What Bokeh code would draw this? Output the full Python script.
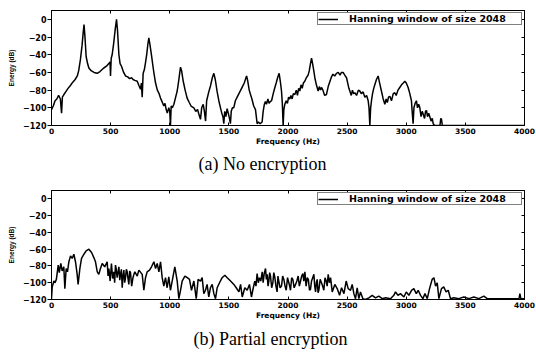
from bokeh.plotting import figure
from bokeh.models import LinearAxis, FixedTicker, Title, Legend, LegendItem, Range1d
from bokeh.layouts import column
from bokeh.embed import file_html
from bokeh.resources import INLINE

# ---------------- data ----------------
freq_a = [0, 15, 30, 45, 60, 75, 85, 92, 105, 120, 140, 158, 180, 200, 218, 230, 245, 258, 268, 275,
          282, 293, 305, 316, 335, 360, 386, 410, 442, 465, 485, 495, 499, 505, 513, 525, 540, 550, 558, 570,
          580, 592, 610, 626, 645, 660, 677, 690, 705, 725, 740, 753, 760, 767, 775, 785, 795, 805, 815, 823,
          832, 846, 860, 870, 880, 895, 910, 922, 935, 950, 960, 970, 979, 992, 1000, 1006, 1012, 1022, 1035, 1050,
          1063, 1075, 1085, 1091, 1100, 1114, 1130, 1147, 1165, 1180, 1204, 1220, 1235, 1246, 1260, 1270, 1283, 1293, 1303, 1312,
          1330, 1345, 1360, 1373, 1385, 1401, 1415, 1429, 1440, 1450, 1457, 1465, 1475, 1485, 1495, 1505, 1513, 1520, 1530, 1541,
          1555, 1570, 1585, 1600, 1615, 1630, 1642, 1650, 1660, 1672, 1683, 1695, 1710, 1725, 1732, 1739, 1750, 1765, 1781, 1790,
          1800, 1809, 1818, 1830, 1840, 1850, 1861, 1875, 1889, 1900, 1912, 1925, 1935, 1945, 1952, 1959, 1965, 1973, 1985, 1995,
          2005, 2015, 2025, 2035, 2045, 2058, 2070, 2080, 2090, 2100, 2110, 2120, 2130, 2142, 2155, 2170, 2180, 2190, 2199, 2208,
          2218, 2227, 2240, 2255, 2265, 2275, 2283, 2295, 2310, 2325, 2340, 2355, 2368, 2380, 2395, 2410, 2425, 2440, 2452, 2466,
          2480, 2495, 2505, 2515, 2523, 2535, 2545, 2555, 2565, 2580, 2595, 2607, 2620, 2635, 2650, 2665, 2678, 2685, 2692, 2699,
          2706, 2715, 2725, 2734, 2748, 2762, 2775, 2790, 2805, 2819, 2830, 2840, 2850, 2861, 2875, 2890, 2903, 2915, 2930, 2945,
          2960, 2975, 2988, 3000, 3016, 3030, 3044, 3050, 3058, 3065, 3075, 3086, 3095, 3105, 3115, 3125, 3135, 3143, 3155, 3163,
          3171, 3180, 3190, 3199, 3210, 3220, 3228, 3240, 3256, 3270, 3285, 3292, 3298, 3305, 4000]
energy_a = [-102, -98, -92, -90, -86, -90, -106, -88, -85, -82, -78, -75, -71, -68, -64, -58, -45, -30, -15, -6,
            -18, -42, -50, -55, -58, -60, -61, -59, -55, -53, -50, -48, -64, -44, -40, -28, -10, 0, -12, -40,
            -50, -53, -60, -64, -65, -67, -66, -68, -69, -70, -75, -79, -72, -88, -61, -57, -49, -40, -28, -21,
            -28, -41, -55, -64, -72, -80, -84, -89, -93, -98, -95, -102, -106, -100, -104, -120, -98, -100, -96, -88,
            -81, -70, -60, -54, -58, -70, -80, -89, -94, -98, -100, -104, -102, -107, -113, -100, -96, -104, -115, -92,
            -82, -75, -66, -61, -68, -82, -92, -100, -106, -110, -118, -104, -110, -101, -106, -112, -118, -104, -100, -100,
            -92, -88, -84, -80, -76, -72, -67, -64, -70, -80, -85, -90, -98, -102, -110, -118, -116, -118, -116, -104,
            -96, -93, -96, -90, -95, -93, -92, -84, -77, -72, -66, -61, -70, -81, -95, -120, -102, -96, -92, -95,
            -88, -90, -86, -90, -84, -85, -80, -86, -78, -81, -74, -78, -72, -70, -66, -63, -58, -50, -44, -50,
            -58, -66, -74, -81, -76, -80, -77, -80, -86, -85, -76, -70, -65, -62, -64, -61, -60, -63, -60, -60,
            -63, -66, -72, -78, -81, -86, -80, -84, -83, -86, -80, -81, -84, -82, -88, -86, -92, -100, -120, -100,
            -92, -84, -78, -74, -68, -64, -72, -81, -90, -96, -90, -94, -88, -87, -92, -84, -83, -86, -80, -77,
            -74, -72, -70, -72, -77, -84, -92, -104, -118, -100, -95, -92, -100, -96, -100, -110, -104, -107, -112, -104,
            -103, -110, -106, -110, -115, -112, -118, -120, -120, -120, -120, -112, -113, -120, -120]

freq_b = [0, 6, 20, 30, 41, 57, 66, 79, 90, 104, 113, 124, 135, 147, 161, 175, 189, 203, 217, 225,
          240, 254, 274, 293, 316, 339, 358, 372, 387, 400, 414, 429, 450, 471, 485, 507, 527, 541, 555, 570,
          584, 598, 612, 626, 640, 654, 668, 689, 705, 725, 739, 767, 781, 795, 809, 829, 846, 866, 880, 894,
          908, 922, 936, 950, 964, 978, 992, 1006, 1026, 1043, 1063, 1077, 1091, 1105, 1128, 1148, 1167, 1184, 1204, 1224,
          1240, 1260, 1274, 1288, 1302, 1316, 1330, 1344, 1359, 1373, 1387, 1401, 1421, 1443, 1466, 1486, 1514, 1542, 1562, 1585,
          1599, 1613, 1635, 1655, 1674, 1691, 1702, 1719, 1739, 1759, 1782, 1799, 1810, 1824, 1838, 1852, 1872, 1889, 1908, 1922,
          1945, 1965, 1985, 2007, 2021, 2041, 2064, 2086, 2106, 2126, 2143, 2163, 2182, 2199, 2219, 2233, 2247, 2261, 2283, 2303,
          2323, 2340, 2360, 2374, 2396, 2416, 2436, 2453, 2473, 2492, 2509, 2529, 2543, 2557, 2571, 2585, 2599, 2613, 2633, 2655,
          2684, 2712, 2740, 2768, 2797, 2825, 2867, 2895, 2909, 2930, 2951, 2980, 3000, 3022, 3045, 3064, 3085, 3101, 3121, 3141,
          3158, 3178, 3197, 3219, 3234, 3248, 3262, 3276, 3298, 3317, 3337, 3355, 3374, 3402, 3445, 3487, 3530, 3572, 3614, 3656,
          3685, 3755, 3811, 3896, 3954, 3961, 3969, 4000]
energy_b = [-119, -105, -98, -100, -96, -79, -88, -77, -86, -81, -107, -83, -87, -75, -68, -71, -66, -75, -90, -102,
            -83, -71, -66, -62, -60, -64, -70, -75, -87, -90, -83, -77, -81, -75, -83, -77, -87, -79, -94, -81,
            -90, -106, -85, -94, -87, -102, -88, -94, -87, -92, -85, -90, -109, -94, -87, -85, -81, -75, -83, -77,
            -87, -75, -94, -104, -94, -106, -93, -109, -94, -81, -98, -119, -109, -98, -92, -94, -96, -109, -98, -119,
            -96, -98, -94, -113, -109, -102, -117, -106, -102, -113, -119, -106, -100, -94, -91, -94, -98, -102, -106, -111,
            -102, -117, -106, -109, -102, -117, -109, -98, -89, -94, -87, -89, -83, -90, -98, -92, -100, -94, -111, -98,
            -104, -96, -109, -100, -109, -96, -102, -92, -98, -89, -87, -94, -109, -98, -90, -111, -96, -109, -100, -109,
            -98, -90, -94, -111, -102, -107, -115, -106, -113, -98, -107, -109, -102, -113, -119, -106, -119, -111, -119, -120,
            -118, -115, -118, -116, -119, -118, -119, -115, -111, -115, -113, -117, -111, -115, -109, -107, -113, -109, -115, -119,
            -113, -119, -107, -96, -94, -104, -100, -119, -107, -105, -111, -109, -119, -118, -119, -117, -119, -117, -119, -116,
            -119, -119, -119, -119, -119, -113, -119, -119]
# extra fine-grained samples in the densest noisy stretches of (b)
freq_b_fine = [478, 496, 517, 534, 548, 562, 577, 591, 605, 619, 633, 647, 661, 678, 697,
               1729, 1749, 1770, 1790, 1817, 1831, 1845, 1862, 1880, 1898, 1915, 1933, 1955, 1975, 1996,
               2014, 2031, 2052, 2075, 2096, 2116, 2134, 2153, 2172, 2190, 2209, 2226, 2240, 2254, 2272,
               2293, 2313, 2331, 2350]
energy_b_fine = [-92, -98, -95, -100, -84, -88, -97, -84, -92, -100, -84, -95, -86, -104, -90,
                 -104, -100, -98, -100, -96, -104, -88, -106, -88, -104, -92, -106, -92, -104, -94,
                 -104, -94, -106, -98, -104, -92, -98, -104, -96, -108, -94, -104, -100, -112, -96,
                 -104, -94, -104, -100]

x_ticks = [0, 500, 1000, 1500, 2000, 2500, 3000, 3500, 4000]
y_ticks = [-120, -100, -80, -60, -40, -20, 0]
legend_label = "Hanning window of size 2048"
x_label = "Frequency (Hz)"
y_label = "Energy (dB)"
captions = ["(a) No encryption", "(b) Partial encryption"]

TICK_FONT = "DejaVu Sans"
y_overrides = {v: ("\u2212%d" % (-v) if v < 0 else "0") for v in y_ticks}

# merge coarse and fine samples of series (b) in frequency order
_pairs_b = sorted(zip(freq_b + freq_b_fine, energy_b + energy_b_fine))
freq_b_all = [f for f, _ in _pairs_b]
energy_b_all = [e for _, e in _pairs_b]


def make_panel(freq, energy, caption, height, min_top, min_bottom, cap_offset, cap_standoff):
    p = figure(width=536, height=height,
               x_range=Range1d(0, 4000), y_range=Range1d(-120, 10),
               output_backend="svg", toolbar_location=None,
               min_border_left=51, min_border_right=12,
               min_border_top=min_top, min_border_bottom=min_bottom,
               x_axis_label=x_label, y_axis_label=y_label)
    p.grid.visible = False
    p.outline_line_color = "black"
    p.outline_line_width = 1
    p.background_fill_color = "white"
    p.border_fill_color = "white"

    r = p.line(freq, energy, line_color="black", line_width=1.5)

    # bottom axis
    xa = p.xaxis[0]
    xa.ticker = FixedTicker(ticks=x_ticks)
    xa.major_tick_in = 3
    xa.major_tick_out = 0
    xa.minor_tick_in = 0
    xa.minor_tick_out = 0
    xa.major_label_standoff = 2
    xa.major_label_text_font = TICK_FONT
    xa.major_label_text_font_style = "bold"
    xa.major_label_text_font_size = "7.5px"
    xa.major_label_text_color = "black"
    xa.axis_label_standoff = 0
    xa.axis_label_text_font = TICK_FONT
    xa.axis_label_text_font_style = "bold"
    xa.axis_label_text_font_size = "7.5px"
    xa.axis_label_text_color = "black"
    xa.axis_line_color = "black"

    # left axis
    ya = p.yaxis[0]
    ya.ticker = FixedTicker(ticks=y_ticks)
    ya.major_label_overrides = y_overrides
    ya.major_tick_in = 0
    ya.major_tick_out = 4
    ya.minor_tick_in = 0
    ya.minor_tick_out = 0
    ya.major_label_standoff = 1
    ya.major_label_text_font = TICK_FONT
    ya.major_label_text_font_style = "bold"
    ya.major_label_text_font_size = "8px"
    ya.major_label_text_color = "black"
    ya.axis_label_standoff = 5
    ya.axis_label_text_font = "Liberation Sans"
    ya.axis_label_text_font_style = "bold"
    ya.axis_label_text_font_size = "6.5px"
    ya.axis_label_text_color = "black"
    ya.axis_line_color = "black"

    # mirrored axes (ticks only, no labels drawn)
    top = LinearAxis(ticker=FixedTicker(ticks=x_ticks), major_tick_in=3, major_tick_out=0,
                     minor_tick_in=0, minor_tick_out=0, major_label_text_font_size="1px",
                     major_label_text_color=None,
                     major_label_standoff=0, axis_line_color="black")
    right = LinearAxis(ticker=FixedTicker(ticks=y_ticks), major_tick_in=3, major_tick_out=0,
                       minor_tick_in=0, minor_tick_out=0, major_label_text_font_size="1px",
                       major_label_text_color=None,
                       major_label_standoff=0, axis_line_color="black")
    p.add_layout(top, "above")
    p.add_layout(right, "right")

    legend = Legend(items=[LegendItem(label=legend_label, renderers=[r])],
                    location="top_right")
    legend.label_text_font = TICK_FONT
    legend.label_text_font_style = "bold"
    legend.label_text_font_size = "9.5px"
    legend.label_text_color = "black"
    legend.glyph_width = 20
    legend.glyph_height = 6
    legend.label_height = 6
    legend.label_standoff = 11
    legend.label_width = 172
    legend.padding = 0
    legend.margin = 2
    legend.spacing = 0
    legend.border_line_color = "black"
    legend.border_line_width = 1
    legend.background_fill_alpha = 1
    p.add_layout(legend)

    t = Title(text=caption, align="left", offset=cap_offset, standoff=cap_standoff,
              text_font="Liberation Serif", text_font_size="18px",
              text_font_style="normal", text_color="black")
    p.add_layout(t, "below")
    return p


p1 = make_panel(freq_a, energy_a, captions[0], 180, 10, 55, 147, 6)
p2 = make_panel(freq_b_all, energy_b_all, captions[1], 172, 10, 47, 142, 8)

layout = column(p1, p2, spacing=0)
open("out.html", "w").write(file_html(layout, INLINE))
